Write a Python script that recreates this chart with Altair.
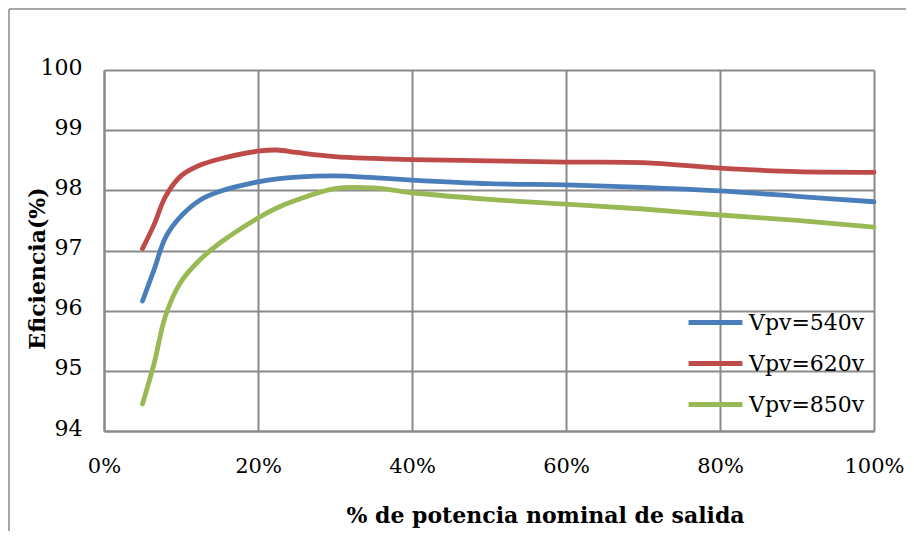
import altair as alt
import pandas as pd

# % of nominal output power
x_pct = [5, 6.5, 8, 10, 12.5, 15, 20, 22.5, 25, 30, 35, 40, 50, 60, 70, 80, 90, 100]
eff_540 = [96.16, 96.68, 97.22, 97.57, 97.84, 97.98, 98.14, 98.19, 98.22, 98.24, 98.21, 98.17,
           98.11, 98.09, 98.05, 97.99, 97.90, 97.81]
eff_620 = [97.03, 97.43, 97.90, 98.24, 98.42, 98.52, 98.65, 98.67, 98.63, 98.56, 98.53, 98.51,
           98.49, 98.47, 98.46, 98.37, 98.31, 98.30]
eff_850 = [94.45, 95.12, 95.92, 96.48, 96.85, 97.12, 97.54, 97.71, 97.84, 98.03, 98.04, 97.96,
           97.85, 97.77, 97.69, 97.59, 97.50, 97.39]

series_names = ["Vpv=540v", "Vpv=620v", "Vpv=850v"]
series_colors = ["#4A7EBB", "#BE4B48", "#98B954"]
x_ticks = [0, 0.2, 0.4, 0.6, 0.8, 1.0]
y_ticks = [94, 95, 96, 97, 98, 99, 100]

rows = []
for name, vals in zip(series_names, [eff_540, eff_620, eff_850]):
    for xv, yv in zip(x_pct, vals):
        rows.append({"x": xv / 100.0, "y": yv, "serie": name})
df = pd.DataFrame(rows)

FONT = "DejaVu Serif"
GRID = "#8a8a8a"
W = 770
SVG_W = 898

lines = alt.Chart(df).mark_line(strokeWidth=4.8, interpolate="catmull-rom", strokeCap="round",
                                strokeJoin="round").encode(
    x=alt.X("x:Q", scale=alt.Scale(domain=[0, 1], nice=False),
            axis=alt.Axis(values=x_ticks, format=".0%", title="% de potencia nominal de salida",
                          titleX=441, titleY=84, titleAlign="center", titleBaseline="middle",
                          labelPadding=24, labelFlush=False, labelFontSize=21)),
    y=alt.Y("y:Q", scale=alt.Scale(domain=[94, 100], zero=False, nice=False),
            axis=alt.Axis(values=y_ticks, format="d", title="Eficiencia(%)",
                          titleX=-67, titleY=198, titleAlign="center", titleBaseline="middle",
                          labelPadding=22, labelFlush=False, labelOffset=-3)),
    color=alt.Color("serie:N", scale=alt.Scale(domain=series_names, range=series_colors),
                    legend=alt.Legend(title=None, orient="none", legendX=582, legendY=223,
                                      symbolType="stroke", symbolSize=2900, symbolStrokeWidth=4.8,
                                      labelFont=FONT, labelFontSize=22, labelColor="#000000",
                                      labelOffset=4, rowPadding=-3, padding=0)),
)

frame_df = pd.DataFrame({"k": [0]})
frame_left = alt.Chart(frame_df).mark_rule(color=GRID, strokeWidth=1.5).encode(
    x=alt.value(-95), y=alt.value(-61), y2=alt.value(700))
frame_top = alt.Chart(frame_df).mark_rule(color=GRID, strokeWidth=1.5).encode(
    x=alt.value(-95), x2=alt.value(1000), y=alt.value(-61))

chart = alt.layer(frame_left, frame_top, lines).properties(
    width=W, height=361,
    padding={"left": 96, "top": 62, "right": SVG_W - 96 - W, "bottom": 100},
    autosize=alt.AutoSizeParams(type="none"),
    background="white",
).configure_view(stroke=None).configure_axis(
    grid=True, gridColor=GRID, gridWidth=2, domainColor=GRID, domainWidth=2,
    ticks=False, labelFont=FONT, labelFontSize=22, labelColor="#000000",
    titleFont=FONT, titleFontSize=22, titleFontWeight="bold", titleColor="#000000",
)

chart.save("out.html", embed_options={"renderer": "svg", "actions": False})
